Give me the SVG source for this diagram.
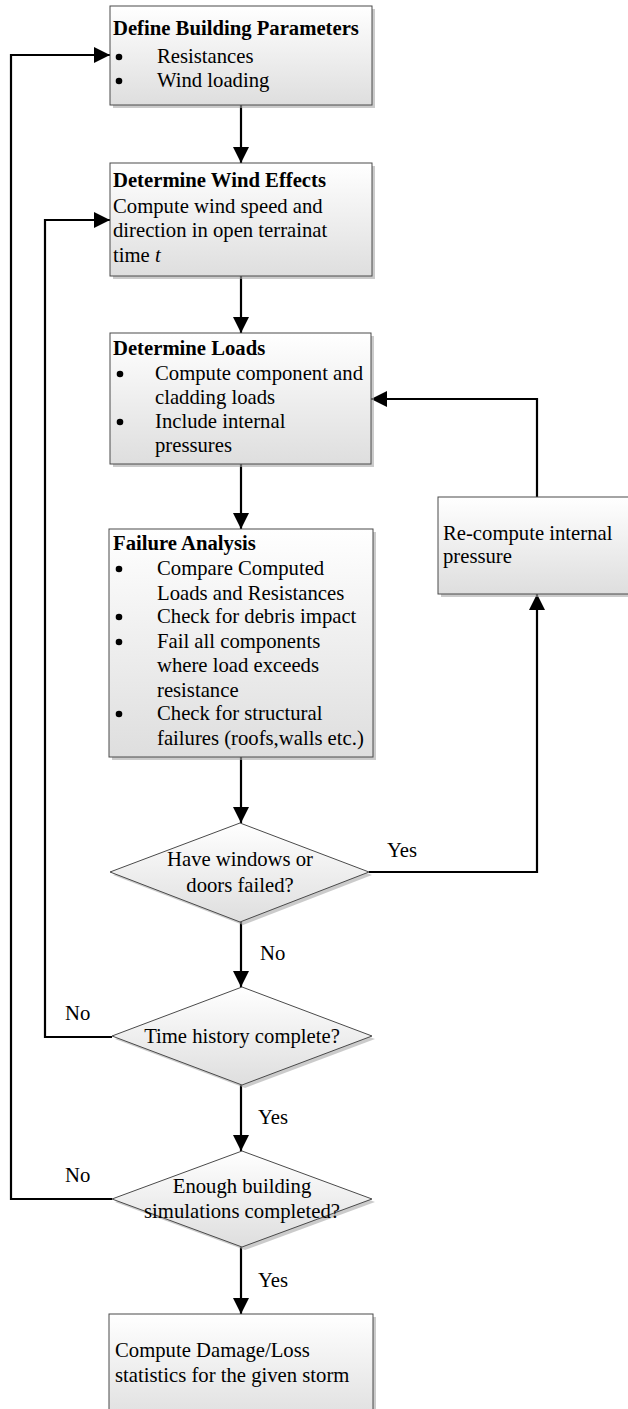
<svg xmlns="http://www.w3.org/2000/svg" width="628" height="1409" viewBox="0 0 628 1409">
<defs>
<linearGradient id="g" x1="0" y1="0" x2="0" y2="1">
<stop offset="0" stop-color="#ffffff"/>
<stop offset="1" stop-color="#dedede"/>
</linearGradient>
<marker id="ah" markerUnits="userSpaceOnUse" markerWidth="18" markerHeight="16" refX="16" refY="8" orient="auto">
<path d="M0,0 L16,8 L0,16 Z" fill="#000"/>
</marker>
<style>
.box{fill:url(#g);stroke:#4a4a4a;stroke-width:1}
.sh{fill:#a8a8a8;opacity:0.6}
.t{font-family:"Liberation Serif","Times New Roman",serif;font-size:20.7px;fill:#000}
.b{font-weight:bold}
.c{text-anchor:middle}
.ln{fill:none;stroke:#000;stroke-width:2.2}
.ar{marker-end:url(#ah)}
.bu{fill:#000}
</style>
</defs>

<g id="connectors">
<path class="ln ar" d="M241,105 L241,163"/>
<path class="ln ar" d="M241,276 L241,333"/>
<path class="ln ar" d="M241,464 L241,529"/>
<path class="ln ar" d="M241,757 L241,823"/>
<path class="ln ar" d="M241,922 L241,987"/>
<path class="ln ar" d="M241,1085 L241,1151"/>
<path class="ln ar" d="M241,1247 L241,1314"/>
<path class="ln ar" d="M369,872 L537,872 L537,594"/>
<path class="ln ar" d="M537,497 L537,399 L371,399"/>
<path class="ln ar" d="M112,1037 L45,1037 L45,220 L110,220"/>
<path class="ln ar" d="M112,1199 L11,1199 L11,55 L110,55"/>
<text class="t" x="387" y="857">Yes</text>
<text class="t" x="260" y="960">No</text>
<text class="t" x="65" y="1020">No</text>
<text class="t" x="258" y="1124">Yes</text>
<text class="t" x="65" y="1182">No</text>
<text class="t" x="258" y="1287">Yes</text>
</g>

<g id="define-building-parameters">
<rect class="sh" x="113" y="9" width="262" height="99"/>
<rect class="box" x="110" y="6" width="262" height="99"/>
<text class="t b" x="113" y="35">Define Building Parameters</text>
<circle class="bu" cx="119" cy="57" r="3.3"/><text class="t" x="157" y="63">Resistances</text>
<circle class="bu" cx="119" cy="81" r="3.3"/><text class="t" x="157" y="87">Wind loading</text>
</g>

<g id="determine-wind-effects">
<rect class="sh" x="113" y="166" width="262" height="113"/>
<rect class="box" x="110" y="163" width="262" height="113"/>
<text class="t b" x="113" y="187">Determine Wind Effects</text>
<text class="t" x="113" y="213">Compute wind speed and</text>
<text class="t" x="113" y="237">direction in open terrainat</text>
<text class="t" x="113" y="262">time <tspan font-style="italic">t</tspan></text>
</g>

<g id="determine-loads">
<rect class="sh" x="113" y="336" width="261" height="131"/>
<rect class="box" x="110" y="333" width="261" height="131"/>
<text class="t b" x="113" y="355">Determine Loads</text>
<circle class="bu" cx="120" cy="374" r="3.3"/><text class="t" x="155" y="380">Compute component and</text>
<text class="t" x="155" y="404">cladding loads</text>
<circle class="bu" cx="120" cy="422" r="3.3"/><text class="t" x="155" y="428">Include internal</text>
<text class="t" x="155" y="452">pressures</text>
</g>

<g id="failure-analysis">
<rect class="sh" x="112" y="532" width="264" height="228"/>
<rect class="box" x="109" y="529" width="264" height="228"/>
<text class="t b" x="113" y="550">Failure Analysis</text>
<circle class="bu" cx="119" cy="569" r="3.3"/><text class="t" x="157" y="575">Compare Computed</text>
<text class="t" x="157" y="600">Loads and Resistances</text>
<circle class="bu" cx="119" cy="617" r="3.3"/><text class="t" x="157" y="623">Check for debris impact</text>
<circle class="bu" cx="119" cy="642" r="3.3"/><text class="t" x="157" y="648">Fail all components</text>
<text class="t" x="157" y="672">where load exceeds</text>
<text class="t" x="157" y="697">resistance</text>
<circle class="bu" cx="119" cy="714" r="3.3"/><text class="t" x="157" y="720">Check for structural</text>
<text class="t" x="157" y="745">failures (roofs,walls etc.)</text>
</g>

<g id="recompute-internal-pressure">
<rect class="sh" x="441" y="500" width="200" height="97"/>
<rect class="box" x="438" y="497" width="200" height="97"/>
<text class="t" x="443" y="540">Re-compute internal</text>
<text class="t" x="443" y="563">pressure</text>
</g>

<g id="windows-doors-failed">
<polygon class="sh" points="243,826 372,875 243,925 113,875"/>
<polygon class="box" points="240,823 369,872 240,922 110,872"/>
<text class="t c" x="240" y="866">Have windows or</text>
<text class="t c" x="240" y="892">doors failed?</text>
</g>

<g id="time-history-complete">
<polygon class="sh" points="245,990 375,1039 245,1088 115,1039"/>
<polygon class="box" points="242,987 372,1036 242,1085 112,1036"/>
<text class="t c" x="242" y="1043">Time history complete?</text>
</g>

<g id="enough-simulations">
<polygon class="sh" points="245,1154 375,1202 245,1250 115,1202"/>
<polygon class="box" points="242,1151 372,1199 242,1247 112,1199"/>
<text class="t c" x="242" y="1193">Enough building</text>
<text class="t c" x="242" y="1218">simulations completed?</text>
</g>

<g id="compute-damage-loss">
<rect class="sh" x="112" y="1317" width="264" height="110"/>
<rect class="box" x="109" y="1314" width="264" height="110"/>
<text class="t" x="115" y="1357">Compute Damage/Loss</text>
<text class="t" x="115" y="1382">statistics for the given storm</text>
</g>
</svg>
